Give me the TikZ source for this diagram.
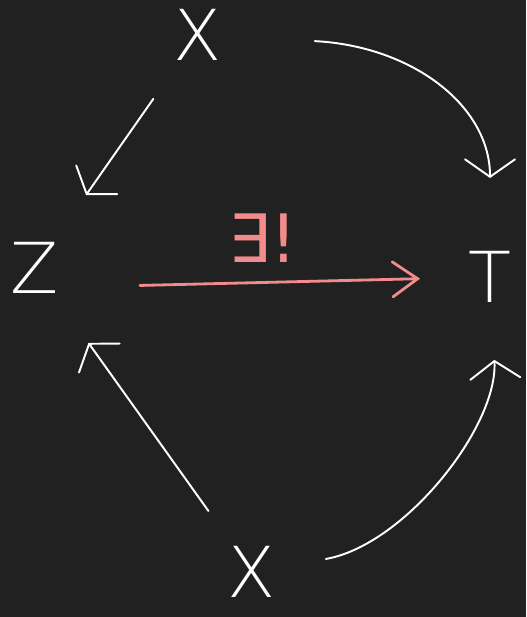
\documentclass[tikz,border=0pt]{standalone}
\usepackage{fontspec}
\setmainfont{DejaVu Sans}
\newfontfamily\handfont{DejaVu Sans ExtraLight}
\usepackage{xcolor}
\usetikzlibrary{arrows.meta, calc}
\definecolor{board}{RGB}{33,33,33}
\definecolor{chalkred}{RGB}{242,140,140}

\begin{document}
\begin{tikzpicture}[
      x=0.02cm, y=0.02cm,
      obj/.style={text=white, inner sep=0pt, font=\handfont\fontsize{40}{48}\selectfont},
      map/.style={draw=white, line width=1.1pt, line cap=round, -{Straight Barb[length=3.5mm, width=10mm, line cap=round]}},
      uniq/.style={draw=chalkred, line width=1.6pt, line cap=round, -{Straight Barb[length=5mm, width=7mm, line cap=round]}}
    ]
    % Board
    \fill[board] (0,0) rectangle (526,617);
    \useasboundingbox (0,0) rectangle (526,617);

    % Objects
    \node[obj] (xt) at (198,582) {X};
    \node[obj] (z) at (35,349) {Z};
    \node[obj] (t) at (490,340) {T};
    \node[obj] (xb) at (252,45) {X};

    % Unique map
    \draw[uniq, shorten <=2.1cm, shorten >=1.4cm] ([yshift=-0.4cm]z.center) -- (t.center)
      node[midway, above=0.25cm, text=chalkred, font=\fontsize{38}{44}\selectfont] (ex) {∃!};

    % Maps out of the top X
    \draw[map, shorten <=1.56cm, shorten >=1.78cm] (xt.center) -- (z.center);
    \draw[map, shorten <=2.34cm, shorten >=1.98cm] (xt.center) to[out=-3, in=90, out distance=4.3cm, in distance=3.42cm] (t.center);

    % Maps out of the bottom X
    \draw[map, shorten <=1.5cm, shorten >=1.84cm] (xb.center) -- (z.center);
    \draw[map, shorten <=1.5cm, shorten >=1.66cm] (xb.center) to[out=10, in=-87, out distance=3.1cm, in distance=3cm] (t.center);
  \end{tikzpicture}
\end{document}
